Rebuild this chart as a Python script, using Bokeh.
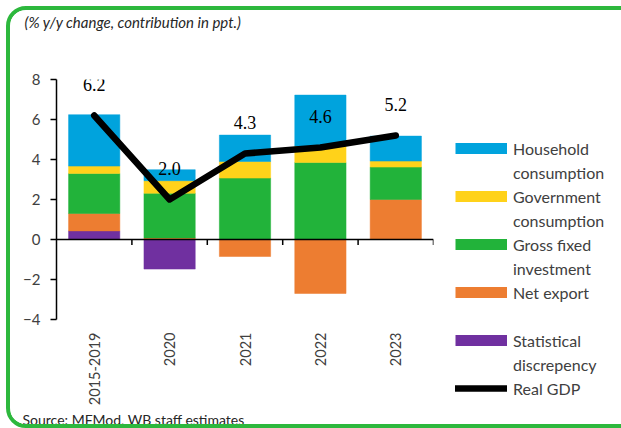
import math
import numpy as np
from bokeh.plotting import figure
from bokeh.models import (Range1d, FixedTicker, Span, Legend, LegendItem, Title)
from bokeh.embed import file_html
from bokeh.resources import INLINE
from bokeh.core.properties import value

# ---------------- data ----------------
categories = ["2015-2019", "2020", "2021", "2022", "2023"]
statistical_discrepancy = [0.43, -1.48, 0.0, 0.0, 0.0]
net_export = [0.87, 0.08, -0.85, -2.70, 2.00]
gross_fixed_investment = [2.00, 2.23, 3.07, 3.85, 1.62]
government_consumption = [0.37, 0.63, 0.83, 0.82, 0.30]
household_consumption = [2.57, 0.55, 1.32, 2.55, 1.25]
real_gdp = [6.2, 2.0, 4.3, 4.6, 5.2]
y_ticks = [-4, -2, 0, 2, 4, 6, 8]

title_text = "(% y/y change, contribution in ppt.)"
source_text = "Source: MFMod, WB staff estimates"

series = [
    (["Statistical", "discrepency"], statistical_discrepancy, "#7030A0"),
    (["Net export"], net_export, "#ED7D31"),
    (["Gross fixed", "investment"], gross_fixed_investment, "#22B33A"),
    (["Government", "consumption"], government_consumption, "#FFD21A"),
    (["Household", "consumption"], household_consumption, "#00A3DD"),
]

SANS = "Lato"
GREY = "#404040"

n = len(categories)
xs = np.arange(n) + 0.5

p = figure(frame_width=377, frame_height=240, output_backend="svg",
           toolbar_location=None,
           x_range=Range1d(0, n), y_range=Range1d(-4, 8),
           min_border_left=46, min_border_right=184, min_border_top=68,
           min_border_bottom=105)
p.outline_line_color = None
p.xgrid.visible = False
p.ygrid.visible = False
p.background_fill_color = "white"
p.border_fill_color = "white"
p.styles = {"border": "4px solid #2DB83D", "border-radius": "20px",
            "margin-left": "6px", "margin-top": "6px",
            "box-sizing": "content-box", "overflow": "hidden",
            "height": "414px"}

# stacked bars (positives up from 0, negatives down from 0)
pos = np.zeros(n)
neg = np.zeros(n)
proxies = {}
for lines, vals, color in series:
    v = np.array(vals, dtype=float)
    bottom = np.where(v >= 0, pos, neg)
    top = bottom + v
    pos = np.where(v >= 0, top, pos)
    neg = np.where(v < 0, top, neg)
    p.vbar(x=xs, bottom=bottom, top=top, width=0.68, fill_color=color,
           line_color=color, line_width=0.5)
    # legend swatch proxy (thick butt line, only visible in the legend)
    proxies[lines[0]] = p.line(x=[np.nan], y=[np.nan], line_color=color,
                               line_width=11, line_cap="butt")

# zero line with tick marks at category boundaries
p.add_layout(Span(location=0, dimension="width", line_color="black", line_width=1.5))
bounds = np.arange(1, n + 1)
p.segment(x0=bounds, y0=np.zeros(n), x1=bounds, y1=np.full(n, -0.27),
          line_color="black", line_width=1.5)

# GDP line and labels
gdp_line = p.line(xs, real_gdp, line_color="black", line_width=6.5,
                  line_cap="round", line_join="round")
p.text(x=xs, y=real_gdp, text=[f"{v:.1f}" for v in real_gdp], y_offset=-31,
       text_align="center", text_baseline="alphabetic",
       text_font=value("Liberation Serif"), text_font_size="18px",
       text_color="black")

# axes
p.yaxis.ticker = FixedTicker(ticks=y_ticks)
p.yaxis.axis_line_color = "black"
p.yaxis.axis_line_width = 1.5
p.yaxis.major_tick_line_color = "black"
p.yaxis.major_tick_line_width = 1.5
p.yaxis.major_tick_out = 6
p.yaxis.major_tick_in = 0
p.yaxis.minor_tick_line_color = None
p.yaxis.major_label_standoff = 10
p.yaxis.major_label_text_font = SANS
p.yaxis.major_label_text_font_size = "15px"
p.yaxis.major_label_text_color = GREY

p.xaxis.ticker = FixedTicker(ticks=list(xs))
p.xaxis.major_label_overrides = {float(x): c for x, c in zip(xs, categories)}
p.xaxis.major_label_orientation = math.pi / 2
p.xaxis.axis_line_color = None
p.xaxis.major_tick_line_color = None
p.xaxis.minor_tick_line_color = None
p.xaxis.major_tick_out = 0
p.xaxis.major_label_standoff = 13
p.xaxis.major_label_text_font = SANS
p.xaxis.major_label_text_font_size = "14.5px"
p.xaxis.major_label_text_color = GREY

blank = p.line(x=[np.nan], y=[np.nan], line_alpha=0)

# title (two empty trailing lines lift it to the top of the card) and source
p.title = Title(text=title_text + "\n\n", align="left", offset=-32, standoff=4,
                vertical_align="top", text_baseline="top", text_font=SANS,
                text_font_style="italic", text_font_size="15px",
                text_line_height=1.25, text_color="#262626")
p.add_layout(Title(text=source_text, align="left", offset=-34, standoff=0,
                   text_font=SANS, text_font_style="normal",
                   text_font_size="14px", text_color="#262626"), "below")

# main legend
order = [series[4], series[3], series[2], series[1], None, series[0]]
items = []
for entry in order:
    if entry is None:
        items.append(LegendItem(label=" ", renderers=[blank]))
        continue
    lines = entry[0]
    items.append(LegendItem(label=lines[0], renderers=[proxies[lines[0]]]))
    for extra in lines[1:]:
        items.append(LegendItem(label=extra, renderers=[blank]))
items.append(LegendItem(label="Real GDP", renderers=[gdp_line]))

legend = Legend(items=items, location=(22, -81), glyph_width=52,
                glyph_height=24, label_height=24, spacing=0, padding=0,
                margin=0, label_standoff=6, label_text_font=SANS,
                label_text_font_size="16px", label_text_color=GREY,
                border_line_color=None, background_fill_alpha=0)
p.add_layout(legend, "right")

open("out.html", "w").write(file_html(p, INLINE))
